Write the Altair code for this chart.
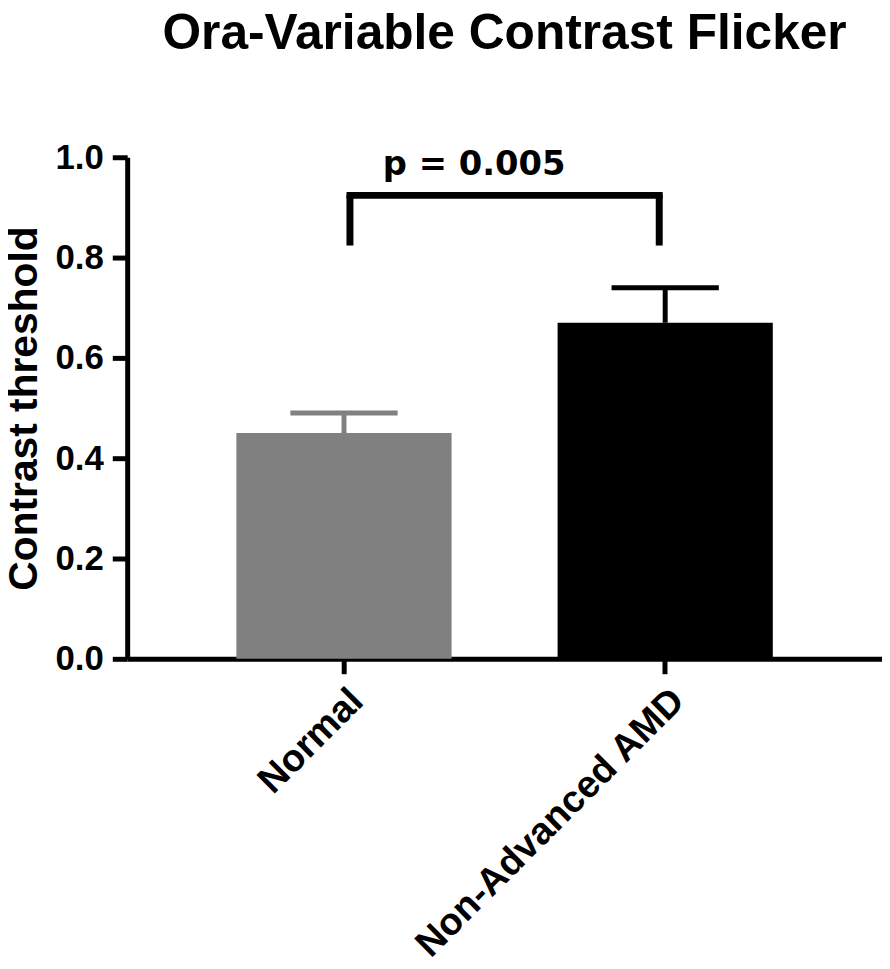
import altair as alt
import pandas as pd

groups = ["Normal", "Non-Advanced AMD"]
means = [0.45, 0.67]
sems = [0.04, 0.07]
colors = ["#808080", "#000000"]
y_ticks = [0.0, 0.2, 0.4, 0.6, 0.8, 1.0]
bracket_top = 0.924
bracket_bottom = 0.824
p_label = "p = 0.005"
p_y = 0.964
title_text = "Ora-Variable Contrast Flicker"
y_title = "Contrast threshold"

df = pd.DataFrame({
    "group": groups,
    "mean": means,
    "upper": [m + s for m, s in zip(means, sems)],
})

FONT = "Liberation Sans"

x_scale = alt.Scale(domain=groups, paddingInner=0.33, paddingOuter=0.34)
x_enc = alt.X(
    "group:N",
    scale=x_scale,
    axis=alt.Axis(
        title=None,
        labelAngle=-45,
        labelFont=FONT,
        labelFontSize=38,
        labelFontWeight="bold",
        labelColor="black",
        labelPadding=8,
        labelLimit=0,
        tickSize=15,
        tickWidth=5,
        tickColor="black",
        domainWidth=5,
        domainColor="black",
    ),
)
y_scale = alt.Scale(domain=[0, 1], nice=False, zero=True)
y_enc = alt.Y(
    "mean:Q",
    scale=y_scale,
    axis=alt.Axis(
        title=y_title,
        values=y_ticks,
        format=".1f",
        grid=False,
        labelFont=FONT,
        labelFontSize=35,
        labelFontWeight="bold",
        labelColor="black",
        labelPadding=9,
        tickSize=15,
        tickWidth=5,
        tickColor="black",
        domainWidth=5,
        domainColor="black",
        titleFont=FONT,
        titleFontSize=41,
        titleFontWeight="bold",
        titleColor="black",
        titlePadding=10,
    ),
)
color_enc = alt.Color(
    "group:N", scale=alt.Scale(domain=groups, range=colors), legend=None
)

base = alt.Chart(df)
bars = base.mark_bar().encode(x=x_enc, y=y_enc, color=color_enc)
stems = base.mark_rule(strokeWidth=5).encode(
    x=alt.X("group:N", scale=x_scale),
    y=alt.Y("mean:Q", scale=y_scale),
    y2="upper:Q",
    color=color_enc,
)
caps = base.mark_tick(size=108, thickness=5, opacity=1).encode(
    x=alt.X("group:N", scale=x_scale),
    y=alt.Y("upper:Q", scale=y_scale),
    color=color_enc,
)

bracket_df = pd.DataFrame({"g": [groups[0]], "g2": [groups[1]], "top": [bracket_top], "bot": [bracket_bottom], "py": [p_y]})
bbase = alt.Chart(bracket_df)
top_rule = bbase.mark_rule(strokeWidth=7, color="black", strokeCap="square", xOffset=6, x2Offset=-6).encode(
    x=alt.X("g:N", scale=x_scale), x2="g2:N", y=alt.Y("top:Q", scale=y_scale)
)
leg_left = bbase.mark_rule(strokeWidth=7, color="black", xOffset=6).encode(
    x=alt.X("g:N", scale=x_scale), y=alt.Y("bot:Q", scale=y_scale), y2="top:Q"
)
leg_right = bbase.mark_rule(strokeWidth=7, color="black", xOffset=-6).encode(
    x=alt.X("g2:N", scale=x_scale), y=alt.Y("bot:Q", scale=y_scale), y2="top:Q"
)
p_text = bbase.mark_text(
    text=p_label, font="DejaVu Sans", fontSize=34, fontWeight="bold",
    align="left", baseline="alphabetic", dx=39, color="black",
).encode(x=alt.X("g:N", scale=x_scale), y=alt.Y("py:Q", scale=y_scale))

chart = alt.layer(bars, stems, caps, top_rule, leg_left, leg_right, p_text).properties(
    width=760,
    height=505,
    background="white",
    autosize=alt.AutoSizeParams(type="none"),
    padding={"left": 120, "top": 147, "right": 0, "bottom": 303},
    title=alt.TitleParams(
        text=title_text,
        font=FONT,
        fontSize=50,
        fontWeight="bold",
        color="black",
        anchor="middle",
        frame="group",
        offset=82,
    ),
).configure_view(stroke=None).configure_axis(grid=False)

chart.save("out.html", embed_options={"renderer": "svg", "actions": False})
